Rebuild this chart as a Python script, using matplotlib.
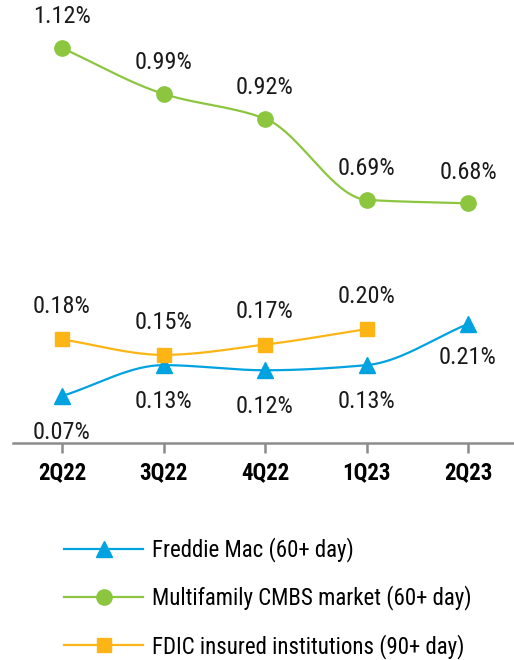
import numpy as np
import matplotlib
matplotlib.use("Agg")
import matplotlib.pyplot as plt
from matplotlib import font_manager
from matplotlib.lines import Line2D

quarters = ["2Q22", "3Q22", "4Q22", "1Q23", "2Q23"]
freddie = [0.07, 0.13, 0.12, 0.13, 0.21]
cmbs = [1.12, 0.99, 0.92, 0.69, 0.68]
fdic = [0.18, 0.15, 0.17, 0.20]
labels = ["Freddie Mac (60+ day)", "Multifamily CMBS market (60+ day)",
          "FDIC insured institutions (90+ day)"]

names = {f.name for f in font_manager.fontManager.ttflist}
fam = "Liberation Sans"
condensed = False
for cand in ["Roboto Condensed", "Liberation Sans Narrow", "Open Sans Condensed", "Arial Narrow"]:
    if cand in names:
        fam = cand
        condensed = True
        break
plt.rcParams["font.family"] = [fam, "DejaVu Sans"]

BLUE = "#00A3E0"
GREEN = "#8CC63F"
ORANGE = "#FDB515"
GRAY = "#8C8C8C"


def smooth(x, y, n=40):
    # monotone cubic (Fritsch-Carlson) curve through the points for drawing
    x = np.asarray(x, float)
    y = np.asarray(y, float)
    h = np.diff(x)
    d = np.diff(y) / h
    m = np.zeros_like(y)
    m[0], m[-1] = d[0], d[-1]
    for i in range(1, len(y) - 1):
        if d[i - 1] * d[i] <= 0:
            m[i] = 0.0
        else:
            w1 = 2 * h[i] + h[i - 1]
            w2 = h[i] + 2 * h[i - 1]
            m[i] = (w1 + w2) / (w1 / d[i - 1] + w2 / d[i])
    xs, ys = [], []
    for i in range(len(x) - 1):
        t = np.linspace(0, 1, n)
        h00 = 2 * t ** 3 - 3 * t ** 2 + 1
        h10 = t ** 3 - 2 * t ** 2 + t
        h01 = -2 * t ** 3 + 3 * t ** 2
        h11 = t ** 3 - t ** 2
        xs.append(x[i] + t * h[i])
        ys.append(h00 * y[i] + h10 * h[i] * m[i] + h01 * y[i + 1] + h11 * h[i] * m[i + 1])
    return np.concatenate(xs), np.concatenate(ys)


W, H = 514, 660
fig = plt.figure(figsize=(W / 100, H / 100), dpi=100)
ax = fig.add_axes([13 / W, (H - 443) / H, 1 - 13 / W, 443 / H])
ax2 = ax.twinx()
x = np.arange(len(quarters))

ax.set_xlim(-0.483, 4.453)
ax.set_ylim(-0.0215, 0.8404)
ax2.set_ylim(0.001, 1.256)

ms = 10.5
lw = 1.6
# Freddie
sx, sy = smooth(x, freddie)
ax.plot(sx, sy, color=BLUE, lw=lw, zorder=3)
ax.plot(x, freddie, ls="none", marker="^", color=BLUE, ms=ms + 1, zorder=4)
# FDIC
fx = x[:len(fdic)]
sx, sy = smooth(fx, fdic)
ax.plot(sx, sy, color=ORANGE, lw=lw, zorder=3)
ax.plot(fx, fdic, ls="none", marker="s", color=ORANGE, ms=ms, zorder=4)
# CMBS
sx, sy = smooth(x, cmbs)
ax2.plot(sx, sy, color=GREEN, lw=lw, zorder=3)
ax2.plot(x, cmbs, ls="none", marker="o", color=GREEN, ms=ms + 0.5, zorder=4)

fs = 17.5 if condensed else 15
lfs = 16.5 if condensed else 15
for xi, v in zip(x, cmbs):
    ax2.annotate(f"{v:.2f}%", (xi, v), xytext=(0, 22.5), textcoords="offset points",
                 ha="center", va="center", fontsize=fs, color="#1a1a1a")
for xi, v in zip(fx, fdic):
    ax.annotate(f"{v:.2f}%", (xi, v), xytext=(0, 23.5), textcoords="offset points",
                ha="center", va="center", fontsize=fs, color="#1a1a1a")
for xi, v in zip(x, freddie):
    off = -24 if xi == 4 else -26
    ax.annotate(f"{v:.2f}%", (xi, v), xytext=(0, off), textcoords="offset points",
                ha="center", va="center", fontsize=fs, color="#1a1a1a")

for a in (ax, ax2):
    for s in ("top", "right", "left"):
        a.spines[s].set_visible(False)
    a.set_yticks([])
ax2.spines["bottom"].set_visible(False)
ax.spines["bottom"].set_color(GRAY)
ax.spines["bottom"].set_linewidth(1.8)
ax.set_xticks(x)
ax.set_xticklabels(quarters, fontsize=16.5 if condensed else 15.5, fontweight="bold")
ax.tick_params(axis="x", length=7, width=1.8, color=GRAY, pad=6)
ax.patch.set_alpha(0)
ax2.patch.set_alpha(0)

handles = [
    Line2D([], [], color=BLUE, lw=lw, marker="^", ms=ms + 1),
    Line2D([], [], color=GREEN, lw=lw, marker="o", ms=ms + 0.5),
    Line2D([], [], color=ORANGE, lw=lw, marker="s", ms=ms),
]
fig.legend(handles, labels, loc="upper left", bbox_to_anchor=(55 / W, 1 - 528 / H),
           frameon=False, fontsize=lfs, handlelength=3.45, handletextpad=0.4,
           labelspacing=1.02, borderaxespad=0)

fig.savefig("out.png", dpi=100)
